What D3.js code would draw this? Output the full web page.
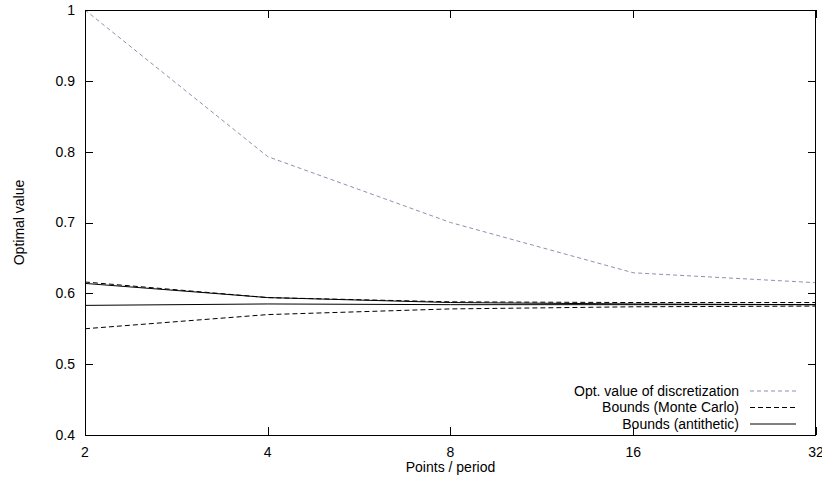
<!DOCTYPE html>
<html><head><meta charset="utf-8">
<script src="https://cdn.jsdelivr.net/npm/d3@7"></script>
<style>body{margin:0;background:#fff}svg{display:block}text{font-family:"Liberation Sans",Arial,sans-serif;font-size:14px;fill:#000}</style>
</head><body>
<script>
const points = [2, 4, 8, 16, 32];
const yTicks = [0.4, 0.5, 0.6, 0.7, 0.8, 0.9, 1];
const optValue = [1.0, 0.793, 0.700, 0.629, 0.615];
const mcUpper = [0.616, 0.594, 0.588, 0.587, 0.587];
const mcLower = [0.550, 0.570, 0.578, 0.581, 0.582];
const antUpper = [0.614, 0.594, 0.587, 0.585, 0.584];
const antLower = [0.583, 0.585, 0.584, 0.584, 0.584];
const legendLabels = ["Opt. value of discretization", "Bounds (Monte Carlo)", "Bounds (antithetic)"];

const W = 822, H = 482;
const m = {l: 85, r: 6, t: 10, b: 47};
const svg = d3.select("body").append("svg").attr("width", W).attr("height", H);
const x = d3.scaleLog().base(2).domain([2, 32]).range([m.l, W - m.r]);
const y = d3.scaleLinear().domain([0.4, 1]).range([H - m.b, m.t]);
const tl = 8;

// ticks (mirrored)
const g = svg.append("g").attr("stroke", "#000").attr("stroke-width", 1);
yTicks.forEach(v => {
  const yy = Math.round(y(v)) + 0.5;
  g.append("line").attr("x1", m.l).attr("x2", m.l + tl).attr("y1", yy).attr("y2", yy);
  g.append("line").attr("x1", W - m.r - tl).attr("x2", W - m.r).attr("y1", yy).attr("y2", yy);
});
points.forEach(v => {
  const xx = Math.round(x(v)) + 0.5;
  g.append("line").attr("x1", xx).attr("x2", xx).attr("y1", H - m.b).attr("y2", H - m.b - tl);
  g.append("line").attr("x1", xx).attr("x2", xx).attr("y1", m.t).attr("y2", m.t + tl);
});

// tick labels
svg.append("g").selectAll("text").data(yTicks).join("text")
  .attr("x", m.l - 10).attr("y", d => y(d)).attr("dy", "0.35em").attr("text-anchor", "end")
  .text(d => d3.format("")(d));
svg.append("g").selectAll("text").data(points).join("text")
  .attr("x", d => x(d)).attr("y", H - m.b + 17).attr("dy", "0.35em").attr("text-anchor", "middle")
  .text(d => d);

// axis titles
svg.append("text").attr("x", (m.l + W - m.r) / 2).attr("y", 467).attr("dy", "0.35em").attr("text-anchor", "middle").text("Points / period");
svg.append("text").attr("transform", `translate(19,${(m.t + H - m.b) / 2}) rotate(-90)`).attr("dy", "0.35em").attr("text-anchor", "middle").text("Optimal value");

// lines
const line = d3.line().x((d, i) => x(points[i])).y(d => y(d));
const styles = [
  {stroke: "#8a93ad", dash: "4,3", width: 1},
  {stroke: "#000", dash: "5,3", width: 1},
  {stroke: "#000", dash: null, width: 1}
];
const series = [[optValue, 0], [mcUpper, 1], [mcLower, 1], [antUpper, 2], [antLower, 2]];
series.forEach(([data, s]) => {
  svg.append("path").attr("d", line(data)).attr("fill", "none")
    .attr("stroke", styles[s].stroke).attr("stroke-width", styles[s].width)
    .attr("stroke-dasharray", styles[s].dash);
});

// border
svg.append("rect").attr("x", m.l + 0.5).attr("y", m.t + 0.5)
  .attr("width", W - m.r - m.l - 1).attr("height", H - m.b - m.t)
  .attr("fill", "none").attr("stroke", "#000").attr("stroke-width", 1);

// legend
const legY = [391, 407.5, 424];
legendLabels.forEach((lab, i) => {
  svg.append("text").attr("x", 739).attr("y", legY[i]).attr("dy", "0.35em").attr("text-anchor", "end").text(lab);
  svg.append("line").attr("x1", 750).attr("x2", 796).attr("y1", legY[i]).attr("y2", legY[i])
    .attr("stroke", styles[i].stroke).attr("stroke-width", styles[i].width).attr("stroke-dasharray", styles[i].dash);
});
</script>
</body></html>
